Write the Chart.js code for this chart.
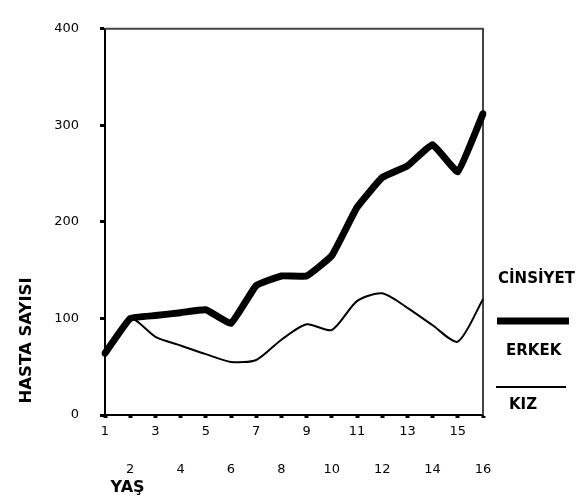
<!DOCTYPE html>
<html>
<head>
<meta charset="utf-8">
<script src="https://cdn.jsdelivr.net/npm/chart.js@4"></script>
<style>
  html, body { margin: 0; padding: 0; background: #fff; }
  #wrap { width: 585px; height: 502px; }
</style>
</head>
<body>
<div id="wrap"><canvas id="chart" width="585" height="502"></canvas></div>
<script>
// data
const ages = ['1', '2', '3', '4', '5', '6', '7', '8', '9', '10', '11', '12', '13', '14', '15', '16'];
const erkek = [64, 100, 103, 106, 109, 95, 134, 144, 144, 165, 215, 246, 258, 280, 252, 312];
const kiz = [64, 100, 81, 72, 63, 55, 57, 78, 94, 88, 118, 126, 111, 93, 76, 120];
const yTicks = [0, 100, 200, 300, 400];

const tickFont = { family: 'DejaVu Sans', size: 13, lineHeight: '19px' };
const titleFont = { family: 'DejaVu Sans', size: 15, weight: 'bold' };

// frame on top and right of the plot
const framePlugin = {
    id: 'frame',
    beforeDatasetsDraw(chart) {
        const { ctx, chartArea: a } = chart;
        ctx.save();
        ctx.strokeStyle = '#444';
        ctx.lineWidth = 2;
        ctx.beginPath();
        ctx.moveTo(a.left, a.top);
        ctx.lineTo(a.right, a.top);
        ctx.lineTo(a.right, a.bottom);
        ctx.stroke();
        ctx.restore();
    }
};

// legend at the right: title, line sample, then label
const legendPlugin = {
    id: 'sideLegend',
    afterDraw(chart) {
        const { ctx } = chart;
        ctx.save();
        ctx.fillStyle = '#000';
        ctx.strokeStyle = '#000';
        ctx.font = 'bold 15px "DejaVu Sans"';
        ctx.textBaseline = 'middle';
        ctx.textAlign = 'left';
        ctx.fillText('CİNSİYET', 498, 279);
        const rows = [
            { y: 321, x1: 497, x2: 569, tx: 506, ty: 351 },
            { y: 387, x1: 496, x2: 566, tx: 509, ty: 405 }
        ];
        chart.data.datasets.forEach((ds, i) => {
            const r = rows[i];
            ctx.lineWidth = ds.borderWidth;
            ctx.beginPath();
            ctx.moveTo(r.x1, r.y);
            ctx.lineTo(r.x2, r.y);
            ctx.stroke();
            ctx.fillText(ds.label, r.tx, r.ty);
        });
        ctx.restore();
    }
};

new Chart(document.getElementById('chart'), {
    type: 'line',
    data: {
        labels: ages,
        datasets: [
            {
                label: 'ERKEK',
                data: erkek,
                borderColor: '#000',
                borderWidth: 7,
                borderJoinStyle: 'round',
                borderCapStyle: 'round',
                tension: 0.1,
                pointRadius: 0,
                order: 0
            },
            {
                label: 'KIZ',
                data: kiz,
                borderColor: '#000',
                borderWidth: 2,
                tension: 0.25,
                pointRadius: 0,
                order: 1
            }
        ]
    },
    options: {
        responsive: false,
        animation: false,
        layout: { padding: { top: 16, right: 102, left: 0, bottom: 0 } },
        plugins: {
            legend: { display: false },
            tooltip: { enabled: false }
        },
        scales: {
            x: {
                type: 'category',
                offset: false,
                afterFit(scale) { scale.height = 87; },
                border: { display: true, color: '#000', width: 2 },
                grid: { drawOnChartArea: false, drawTicks: true, tickLength: 3, tickWidth: 4, tickColor: '#000' },
                ticks: {
                    autoSkip: false,
                    maxRotation: 0,
                    padding: 4,
                    color: '#000',
                    font: tickFont,
                    callback: (v, i) => (i % 2 === 0 ? ages[i] : ['', '', ages[i]])
                },
                title: {
                    display: true,
                    text: ' YAŞ',
                    align: 'start',
                    color: '#000',
                    font: { family: 'DejaVu Sans', size: 16, weight: 'bold' },
                    padding: { top: 0, bottom: 5 }
                }
            },
            y: {
                min: 0,
                max: 400,
                afterFit(scale) { scale.width = 105; },
                afterBuildTicks(scale) { scale.ticks = yTicks.map(v => ({ value: v })); },
                border: { display: true, color: '#000', width: 2 },
                grid: { drawOnChartArea: false, drawTicks: true, tickLength: 5, tickWidth: 3, tickColor: '#000' },
                ticks: {
                    padding: 21,
                    color: '#000',
                    font: { family: 'DejaVu Sans', size: 13 }
                },
                title: {
                    display: true,
                    text: '  HASTA SAYISI',
                    align: 'start',
                    color: '#000',
                    font: { family: 'DejaVu Sans', size: 16.5, weight: 'bold' },
                    padding: { top: 17, bottom: 0 }
                }
            }
        }
    },
    plugins: [framePlugin, legendPlugin]
});
</script>
</body>
</html>
